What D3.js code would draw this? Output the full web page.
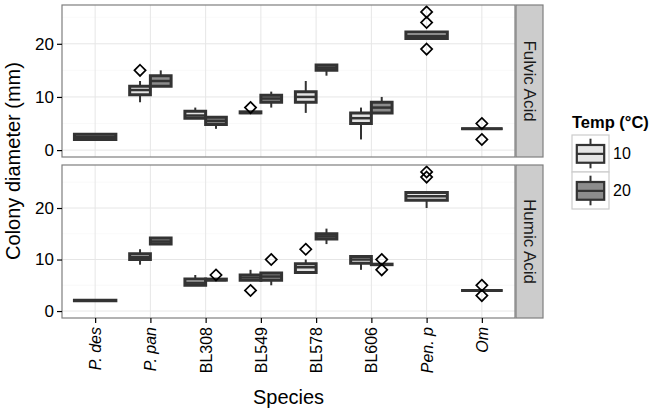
<!DOCTYPE html>
<html>
<head>
<meta charset="utf-8">
<script src="https://cdn.jsdelivr.net/npm/d3@7"></script>
<style>
  body { margin: 0; background: #fff; }
  svg text { font-family: "Liberation Sans", Arial, sans-serif; }
</style>
</head>
<body>
<svg id="chart" width="655" height="413"></svg>
<script>
var species = ["P. des", "P. pan", "BL308", "BL549", "BL578", "BL606", "Pen. p", "Om"];
var italicSpecies = ["P. des", "P. pan", "Pen. p", "Om"];
var temps = ["10", "20"];
var acids = ["Fulvic Acid", "Humic Acid"];
var yTicks = [0, 10, 20];
var yMinor = [5, 15, 25];

// box stats per species: [lower whisker, q1, median, q3, upper whisker], null = not grown
var fulvic10 = [[2, 2, 2.5, 3, 3], [9, 10.4, 11.3, 12, 13], [6, 6, 6.5, 7.3, 8], [7, 7, 7, 7.2, 7.2],
  [7, 9, 10, 11, 13], [2, 5, 6, 7, 8], [21, 21, 21.5, 22.2, 22.2], [4, 4, 4, 4, 4]];
var fulvic20 = [null, [12, 12, 13, 14, 15], [4, 4.8, 5.5, 6.2, 6.2], [8, 9, 9.7, 10.3, 11],
  [14, 15, 15.5, 16, 16], [7, 7, 8, 9, 10], null, null];
var humic10 = [[2, 2, 2, 2.1, 2.1], [9, 10, 10.5, 11.1, 12], [5, 5, 5.5, 6.2, 7], [6, 6, 6.5, 7, 8],
  [7.5, 7.5, 8.5, 9.2, 10], [8, 9.3, 10, 10.6, 10.6], [20, 21.5, 22.3, 23, 23], [4, 4, 4, 4, 4]];
var humic20 = [null, [13, 13, 13.5, 14.2, 14.2], [6, 6, 6, 6.2, 6.2], [5, 6, 6.7, 7.4, 7.4],
  [13, 14, 14.5, 15, 16], [9, 9, 9, 9.1, 9.1], null, null];

// outliers per species
var fulvic10Out = [[], [15], [], [8], [], [], [26, 24, 19], [5, 2]];
var fulvic20Out = [[], [], [], [], [], [], [], []];
var humic10Out = [[], [], [], [4], [12], [], [27, 26], [5, 3]];
var humic20Out = [[], [], [7], [10], [], [10, 8], [], []];

var fills = { "10": "#e5e5e5", "20": "#8c8c8c" };

var panels = [
  { name: acids[0], boxes: { "10": fulvic10, "20": fulvic20 }, outs: { "10": fulvic10Out, "20": fulvic20Out }, top: 5, bottom: 157 },
  { name: acids[1], boxes: { "10": humic10, "20": humic20 }, outs: { "10": humic10Out, "20": humic20Out }, top: 165, bottom: 318 }
];

var left = 62, right = 515, stripW = 27;
var svg = d3.select("#chart");

var x = d3.scalePoint().domain(species).range([left, right]).padding(0.6);
var boxW = x.step() * 0.75;

panels.forEach(function(p, pi) {
  // free y scale per panel, including 0, with 5% expansion
  var vals = [0];
  temps.forEach(function(t) {
    p.boxes[t].forEach(function(b) { if (b) vals = vals.concat(b); });
    p.outs[t].forEach(function(o) { vals = vals.concat(o); });
  });
  var ext = d3.extent(vals), pad = (ext[1] - ext[0]) * 0.05;
  var y = d3.scaleLinear().domain([ext[0] - pad, ext[1] + pad]).range([p.bottom, p.top]);

  var g = svg.append("g");
  g.append("rect").attr("x", left).attr("y", p.top).attr("width", right - left).attr("height", p.bottom - p.top)
    .attr("fill", "#fff");

  g.selectAll(".minor").data(yMinor).enter().append("line")
    .attr("x1", left).attr("x2", right).attr("y1", d => y(d)).attr("y2", d => y(d))
    .attr("stroke", "#f5f5f5").attr("stroke-width", 0.6);
  g.selectAll(".major").data(yTicks).enter().append("line")
    .attr("x1", left).attr("x2", right).attr("y1", d => y(d)).attr("y2", d => y(d))
    .attr("stroke", "#e6e6e6").attr("stroke-width", 1);
  g.selectAll(".vmajor").data(species).enter().append("line")
    .attr("x1", d => x(d)).attr("x2", d => x(d)).attr("y1", p.top).attr("y2", p.bottom)
    .attr("stroke", "#e6e6e6").attr("stroke-width", 1);

  // boxes
  species.forEach(function(s, i) {
    var present = temps.filter(t => p.boxes[t][i]);
    var w = boxW / present.length;
    present.forEach(function(t, k) {
      var b = p.boxes[t][i];
      var cx = x(s) - boxW / 2 + w * (k + 0.5);
      var x0 = cx - w / 2, x1 = cx + w / 2;
      var bg = g.append("g");
      bg.append("line").attr("x1", cx).attr("x2", cx).attr("y1", y(b[4])).attr("y2", y(b[3]))
        .attr("stroke", "#333").attr("stroke-width", 2);
      bg.append("line").attr("x1", cx).attr("x2", cx).attr("y1", y(b[1])).attr("y2", y(b[0]))
        .attr("stroke", "#333").attr("stroke-width", 2);
      bg.append("path")
        .attr("d", "M" + x0 + "," + y(b[3]) + "H" + x1 + "V" + y(b[1]) + "H" + x0 + "Z")
        .attr("fill", fills[t]).attr("stroke", "#333").attr("stroke-width", 3)
        .attr("stroke-linejoin", "miter");
      bg.append("line").attr("x1", x0).attr("x2", x1).attr("y1", y(b[2])).attr("y2", y(b[2]))
        .attr("stroke", "#333").attr("stroke-width", 2.5);
      p.outs[t][i].forEach(function(o) {
        var r = 5.6;
        bg.append("path")
          .attr("d", "M" + cx + "," + (y(o) - r) + "L" + (cx + r) + "," + y(o) + "L" + cx + "," + (y(o) + r) + "L" + (cx - r) + "," + y(o) + "Z")
          .attr("fill", "none").attr("stroke", "#000").attr("stroke-width", 1.7);
      });
    });
  });

  g.append("rect").attr("x", left).attr("y", p.top).attr("width", right - left).attr("height", p.bottom - p.top)
    .attr("fill", "none").attr("stroke", "#7f7f7f").attr("stroke-width", 1.2);

  // strip
  g.append("rect").attr("x", right + 1).attr("y", p.top).attr("width", stripW).attr("height", p.bottom - p.top)
    .attr("fill", "#cccccc").attr("stroke", "#7f7f7f").attr("stroke-width", 1.2);
  g.append("text").attr("transform", "translate(" + (right + 1 + stripW / 2) + "," + ((p.top + p.bottom) / 2) + ") rotate(90)")
    .attr("text-anchor", "middle").attr("dy", "0.35em").attr("font-size", 17).attr("fill", "#1a1a1a").text(p.name);

  // y axis
  var ya = d3.axisLeft(y).tickValues(yTicks).tickSize(5).tickPadding(3).tickFormat(d3.format("d"));
  var yg = svg.append("g").attr("transform", "translate(" + left + ",0)").call(ya);
  yg.select(".domain").remove();
  yg.selectAll(".tick line").attr("stroke", "#000").attr("stroke-width", 1.2);
  yg.selectAll(".tick text").attr("font-size", 17).attr("fill", "#000")
    .style("font-family", '"Liberation Sans", Arial, sans-serif');

  if (pi === 1) {
    var xa = d3.axisBottom(x).tickSize(5).tickPadding(4);
    var xg = svg.append("g").attr("transform", "translate(0," + p.bottom + ")").call(xa);
    xg.select(".domain").remove();
    xg.selectAll(".tick line").attr("stroke", "#000").attr("stroke-width", 1.2);
    xg.selectAll(".tick text").attr("font-size", 16).attr("fill", "#000")
      .style("font-family", '"Liberation Sans", Arial, sans-serif')
      .style("font-style", d => italicSpecies.indexOf(d) >= 0 ? "italic" : "normal")
      .attr("text-anchor", "end").attr("transform", "rotate(-90)")
      .attr("x", -9).attr("y", 0).attr("dy", "0.35em");
  }
});

// axis titles
svg.append("text").attr("transform", "translate(20,161) rotate(-90)").attr("text-anchor", "middle")
  .attr("font-size", 20).attr("fill", "#000").text("Colony diameter (mm)");
svg.append("text").attr("x", (left + right) / 2).attr("y", 404).attr("text-anchor", "middle")
  .attr("font-size", 20).attr("fill", "#000").text("Species");

// legend
var lg = svg.append("g").attr("transform", "translate(572,0)");
lg.append("text").attr("x", 0).attr("y", 128).attr("font-size", 16.5).attr("font-weight", "bold").text("Temp (°C)");
temps.forEach(function(t, i) {
  var ky = 135 + i * 37, ks = 37;
  var k = lg.append("g").attr("transform", "translate(0," + ky + ")");
  k.append("rect").attr("width", ks).attr("height", ks).attr("fill", "#fff").attr("stroke", "#cccccc").attr("stroke-width", 1.2);
  var cx = ks / 2;
  k.append("line").attr("x1", cx).attr("x2", cx).attr("y1", ks * 0.1).attr("y2", ks * 0.9).attr("stroke", "#333").attr("stroke-width", 2);
  k.append("rect").attr("x", ks * 0.13).attr("width", ks * 0.74).attr("y", ks * 0.27).attr("height", ks * 0.48)
    .attr("fill", fills[t]).attr("stroke", "#333").attr("stroke-width", 2.2);
  k.append("line").attr("x1", ks * 0.13).attr("x2", ks * 0.87).attr("y1", ks * 0.51).attr("y2", ks * 0.51).attr("stroke", "#333").attr("stroke-width", 2.2);
  k.append("text").attr("x", ks + 4).attr("y", ks / 2).attr("dy", "0.35em").attr("font-size", 16).text(t);
});
</script>
</body>
</html>
